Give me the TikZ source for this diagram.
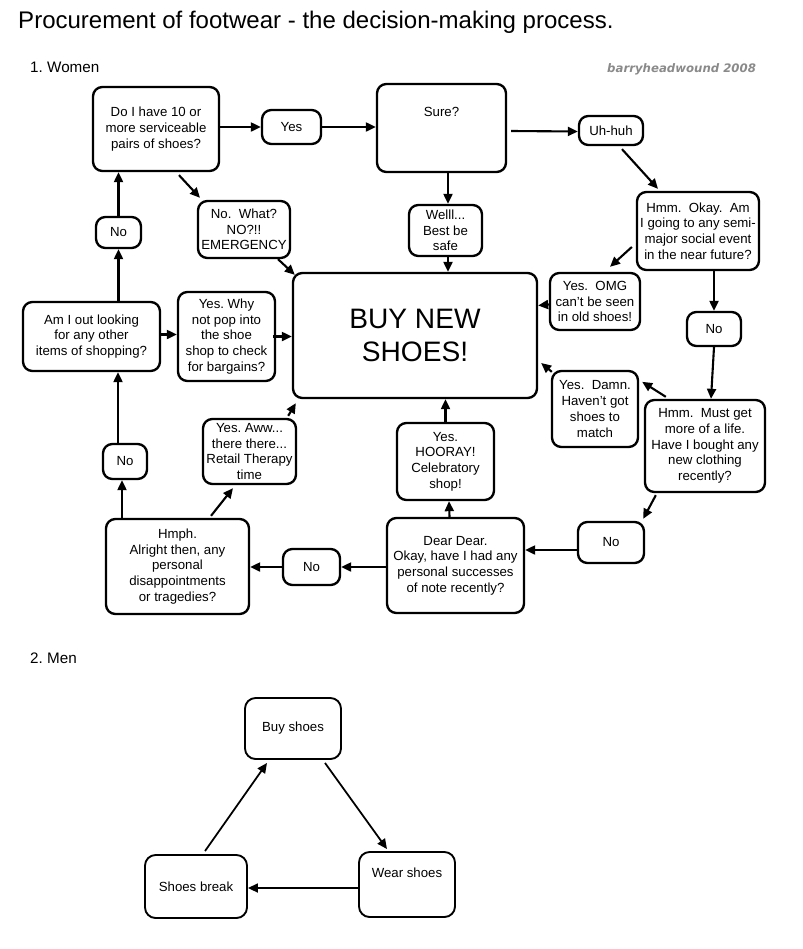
\documentclass[tikz,border=0pt]{standalone}
\usepackage{fontspec}
\setmainfont{Liberation Sans}
\newfontfamily\signfont{DejaVu Sans}
\usepackage{xcolor}
\definecolor{cLine}{HTML}{000000}
\definecolor{cSign}{HTML}{8A8A8A}
\usetikzlibrary{arrows.meta,calc}
\frenchspacing
\tikzset{
  node-box/.style={draw=cLine,line width=2pt,rounded corners=8pt,
    align=center,inner sep=1pt,font=\fontsize{11.3}{13.4}\selectfont},
  node-men/.style={node-box,line width=1.6pt,rounded corners=9pt},
  node-size/.style 2 args={minimum width=#1*0.3mm,minimum height=#2*0.3mm},
  arrow/.style={-{Triangle[length=3mm,width=2.7mm]},line width=1.8pt,draw=cLine},
  arrow-men/.style={arrow,line width=1.5pt},
  head-text/.style={anchor=base west,inner sep=0pt},
}

\begin{document}
\begin{tikzpicture}[x=0.3mm,y=-0.3mm]
  \useasboundingbox (0,0) rectangle (803,949);
  \node[head-text,font=\fontsize{20.5}{24}\selectfont] (title) at (18,28)
    {Procurement of footwear - the decision-making process.};
  \node[head-text,font=\fontsize{13}{15}\selectfont] (women) at (30,72) {1. Women};
  \node[head-text,text=cSign,
    font=\fontsize{10}{12}\selectfont\signfont\bfseries\itshape] (sign) at (607,72)
    {barryheadwound 2008};
  \node[head-text,font=\fontsize{13}{15}\selectfont] (men) at (30,663) {2. Men};

  % 1. Women
  \node[node-box,node-size={126}{84}] (q10) at (156,129) {Do I have 10 or\\more serviceable\\pairs of shoes?};
  \node[node-box,node-size={59}{34}] (yes1) at (291.5,127) {Yes};
  \node[node-box,node-size={129}{88}] (sure) at (441.5,128) {Sure?\\[1.2em]};
  \node[node-box,node-size={64}{29}] (uhhuh) at (611,130.5) {Uh-huh};
  \node[node-box,node-size={73}{51}] (welll) at (445.5,230.5) {Welll...\\Best be\\safe};
  \node[node-box,node-size={122}{78}] (social) at (698,231) {Hmm.\ \ Okay.\ \ Am\\I going to any semi-\\major social event\\in the near future?};
  \node[node-box,node-size={92}{57}] (emerg) at (244,229.5) {No.\ \ What?\\NO?!!\\EMERGENCY};
  \node[node-box,node-size={45}{31}] (no1) at (118.5,232.5) {No};
  \node[node-box,node-size={244}{125},font=\fontsize{24}{28}\selectfont] (buy) at (415,335.5) {BUY NEW\\SHOES!};
  \node[node-box,node-size={137}{69}] (other) at (91.5,336.5) {Am I out looking\\for any other\\items of shopping?};
  \node[node-box,node-size={97}{89}] (bargain) at (226.5,336.5) {Yes. Why\\not pop into\\the shoe\\shop to check\\for bargains?};
  \node[node-box,node-size={90}{57}] (omg) at (595,301.5) {Yes.\ \ OMG\\can't be seen\\in old shoes!};
  \node[node-box,node-size={54}{34}] (no2) at (714,329) {No};
  \node[node-box,node-size={86}{76}] (match) at (595,409) {Yes.\ \ Damn.\\Haven't got\\shoes to\\match};
  \node[node-box,node-size={120}{92}] (life) at (705,446) {Hmm.\ \ Must get\\more of a life.\\Have I bought any\\new clothing\\recently?};
  \node[node-box,node-size={97}{77}] (hooray) at (445.5,461.5) {Yes.\\HOORAY!\\Celebratory\\shop!};
  \node[node-box,node-size={93}{65}] (therapy) at (249.5,451.5) {Yes. Aww...\\there there...\\Retail Therapy\\time};
  \node[node-box,node-size={44}{35}] (no3) at (125,461.5) {No};
  \node[node-box,node-size={137}{95}] (dear) at (455.5,565.5) {Dear Dear.\\Okay, have I had any\\personal successes\\of note recently?};
  \node[node-box,node-size={66}{41}] (no4) at (611,542.5) {No};
  \node[node-box,node-size={57}{36}] (no5) at (311.5,567) {No};
  \node[node-box,node-size={143}{95}] (hmph) at (177.5,566.5) {Hmph.\\Alright then, any\\personal\\disappointments\\or tragedies?};

  \draw[arrow] (q10.east |- yes1.west) -- (yes1.west);
  \draw[arrow] (yes1.east) -- (sure.west |- yes1.east);
  \draw[arrow] ($(sure.east)+(4,3)$) -- ($(uhhuh.west)+(0,1)$);
  \draw[arrow] ($(uhhuh.south)+(11,3)$) -- ($(social.north)+(-40,-2)$);
  \draw[arrow] ($(sure.south)+(6.5,0)$) -- ($(welll.north)+(2.5,0)$);
  \draw[arrow] ($(welll.south)+(2.5,0)$) -- ($(buy.north)+(33,0)$);
  \draw[arrow] ($(q10.south)+(23,3)$) -- ($(emerg.north)+(-44,-2)$);
  \draw[arrow] ($(emerg.south)+(34,0)$) -- ($(buy.north west)+(3,3)$);
  \draw[arrow] (no1.north) -- (no1.north |- q10.south);
  \draw[arrow] (no1.south |- other.north) -- (no1.south);
  \draw[arrow] ($(other.east)+(0,-2)$) -- ($(bargain.west)+(0,-2)$);
  \draw[arrow] ($(bargain.east)+(-3,0)$) -- (buy.west |- bargain.east);
  \draw[arrow] ($(social.west)+(-4,16)$) -- ($(omg.north)+(15,-5)$);
  \draw[arrow] (no2.north |- social.south) -- (no2.north);
  \draw[arrow] ($(omg.west)+(0,3)$) -- ($(buy.east)+(0,-30)$);
  \draw[arrow] (no2.south) -- ($(life.north)+(6,0)$);
  \draw[arrow] ($(life.north west)+(22,-2)$) -- ($(match.north east)+(3,12)$);
  \draw[arrow] ($(match.north west)+(1,2)$) -- ($(buy.east)+(3,27.5)$);
  \draw[arrow] ($(life.south west)+(12,2)$) -- ($(no4.north east)+(-2,-2)$);
  \draw[arrow] ($(no4.west)+(0,7.5)$) -- ($(dear.east)+(0,-15.5)$);
  \draw[arrow] ($(dear.north)+(-6,0)$) -- ($(hooray.south)+(3.5,0)$);
  \draw[arrow] (hooray.north) -- (buy.south -| hooray.north);
  \draw[arrow] ($(dear.west)+(0,1.5)$) -- (no5.east);
  \draw[arrow] (no5.west) -- (hmph.east |- no5.west);
  \draw[arrow] ($(hmph.north)+(-55.5,0)$) -- ($(no3.south)+(-3,0)$);
  \draw[arrow] ($(no3.north)+(-7,0)$) -- ($(other.south)+(26.5,0)$);
  \draw[arrow] ($(hmph.north)+(33.5,-2)$) -- ($(therapy.south)+(-16.5,3)$);
  \draw[arrow] ($(therapy.north east)+(-9,-2)$) -- ($(buy.south west)+(4,4)$);

  % 2. Men
  \node[node-men,node-size={96}{61}] (mbuy) at (293,728.5) {Buy shoes};
  \node[node-men,node-size={96}{65}] (mwear) at (407,884.5) {Wear shoes\\[0.6em]};
  \node[node-men,node-size={102}{63}] (mbreak) at (196,886.5) {Shoes break};

  \draw[arrow-men] ($(mbuy.south)+(32,3)$) -- ($(mwear.north)+(-20,-2)$);
  \draw[arrow-men] ($(mwear.west)+(0,3.5)$) -- ($(mbreak.east)+(0,1.5)$);
  \draw[arrow-men] ($(mbreak.north)+(9,-3)$) -- ($(mbuy.south)+(-26,3)$);
\end{tikzpicture}
\end{document}
